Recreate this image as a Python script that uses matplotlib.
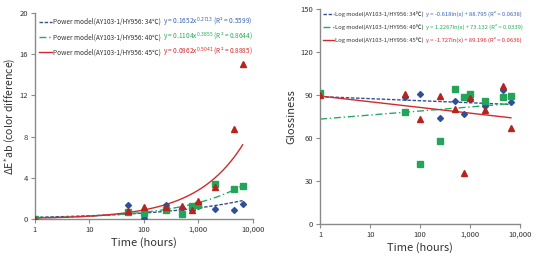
import numpy as np
import matplotlib
matplotlib.use("Agg")
import matplotlib.pyplot as plt

plt.rcParams['font.family'] = ['Noto Sans CJK KR', 'DejaVu Sans']

# time points (hours)
hours = [1, 50, 100, 250, 500, 750, 1000, 2000, 4500, 6500]

# colour difference dE*ab
de_34 = [0.0, 1.37, 0.13, 1.37, 1.1, 0.9, 1.3, 1.0, 0.9, 1.46]
de_40 = [0.0, 0.72, 0.55, 0.88, 0.45, 1.27, 1.37, 3.38, 2.93, 3.22]
de_45 = [0.0, 0.78, 1.2, 1.2, 1.3, 0.88, 1.76, 3.06, 8.7, 15.1]

# glossiness
gl_34 = [90.0, 88.7, 90.6, 74.0, 85.7, 76.6, 87.0, 82.2, 93.4, 85.0]
gl_40 = [91.5, 78.3, 41.6, 57.8, 94.3, 88.7, 90.6, 85.5, 88.3, 89.2]
gl_45 = [90.0, 90.6, 73.0, 89.2, 80.4, 35.8, 88.0, 79.4, 96.4, 67.1]

# fitted models
pow_a = [0.1652, 0.1104, 0.0862]
pow_b = [0.2713, 0.3855, 0.5041]
pow_r2 = ['0.5599', '0.8644', '0.8885']
log_a = [-0.618, 1.2267, -1.727]
log_b = [88.795, 73.132, 89.196]
log_r2 = ['0.0638', '0.0339', '0.0636']

temps = ['34℃', '40℃', '45℃']
mk_colors = ['#2f4f9a', '#22a558', '#b8231c']
ln_colors = ['#34508f', '#2aa866', '#d02a30']
eq_colors = ['#3a63b0', '#22ad55', '#d8262a']
markers = ['D', 's', '^']
msizes = [3.0, 4.8, 4.0]
styles = [(0, (2.5, 1.2)), (0, (5, 2, 1, 2)), '-']

fig = plt.figure(figsize=(5.38, 2.61), dpi=100)
ax1 = fig.add_axes([0.065, 0.161, 0.405, 0.789])
ax2 = fig.add_axes([0.595, 0.142, 0.372, 0.824])

xs = np.logspace(0, np.log10(6500), 200)
gray = '#8a8a8a'


def style_axes(ax):
    ax.set_xscale('log')
    ax.set_xlim(1, 10000)
    ax.set_xticks([1, 10, 100, 1000, 10000])
    ax.set_xticklabels(['1', '10', '100', '1,000', '10,000'])
    ax.minorticks_off()
    for s in ['top', 'right']:
        ax.spines[s].set_visible(False)
    for s in ['left', 'bottom']:
        ax.spines[s].set_color(gray)
        ax.spines[s].set_linewidth(1.0)
    ax.tick_params(colors=gray, labelcolor='#333333', labelsize=5.5,
                   length=3, width=0.8, pad=2)
    ax.set_xlabel('Time (hours)', fontsize=8, color='#333333', labelpad=2)


handles1 = []
for i in range(3):
    ax1.plot(hours, [de_34, de_40, de_45][i], linestyle='none', marker=markers[i],
             ms=msizes[i], color=mk_colors[i], zorder=3)
    h, = ax1.plot(xs, pow_a[i] * xs ** pow_b[i], color=ln_colors[i],
                  linestyle=styles[i], lw=1.0, zorder=2)
    handles1.append(h)
style_axes(ax1)
ax1.set_ylim(0, 20)
ax1.set_yticks([0, 4, 8, 12, 16, 20])
ax1.set_ylabel('ΔE$^{*}$ab (color difference)', fontsize=7.6, color='#333333', labelpad=1)

handles2 = []
for i in range(3):
    ax2.plot(hours, [gl_34, gl_40, gl_45][i], linestyle='none', marker=markers[i],
             ms=msizes[i], color=mk_colors[i], zorder=3)
    h, = ax2.plot(xs, log_a[i] * np.log(xs) + log_b[i], color=ln_colors[i],
                  linestyle=styles[i], lw=1.0, zorder=2)
    handles2.append(h)
style_axes(ax2)
ax2.set_ylim(0, 150)
ax2.set_yticks([0, 30, 60, 90, 120, 150])
ax2.set_ylabel('Glossiness', fontsize=8, color='#333333', labelpad=3)

labels1 = ['Power model(AY103-1/HY956: %s)' % t for t in temps]
labels2 = ['Log model(AY103-1/HY956: %s)' % t for t in temps]
eqs1 = ['y = %.4fx$^{%.4f}$ (R² = %s)' % (pow_a[i], pow_b[i], pow_r2[i]) for i in range(3)]
eqs2 = []
for i in range(3):
    sign = '-' if log_a[i] < 0 else ''
    eqs2.append('y = %s%gln(x) + %.3f (R² = %s)' % (sign, abs(log_a[i]), log_b[i], log_r2[i]))

fs1, fs2 = 4.7, 4.2
leg1 = ax1.legend(handles1, labels1, loc='upper left', bbox_to_anchor=(0.0, 0.995),
                  frameon=False, fontsize=fs1, handlelength=2.0, handletextpad=0.2,
                  labelspacing=1.1, borderaxespad=0.2)
leg2 = ax2.legend(handles2, labels2, loc='upper left', bbox_to_anchor=(-0.005, 1.005),
                  frameon=False, fontsize=fs2, handlelength=2.0, handletextpad=0.2,
                  labelspacing=1.25, borderaxespad=0.2)
for leg in (leg1, leg2):
    for t in leg.get_texts():
        t.set_color('#333333')

fig.canvas.draw()
r = fig.canvas.get_renderer()
inv = fig.transFigure.inverted()
for leg, eqs, fs in ((leg1, eqs1, fs1), (leg2, eqs2, fs2)):
    for i, t in enumerate(leg.get_texts()):
        bb = t.get_window_extent(r)
        x, y = inv.transform((bb.x1 + 1.5, (bb.y0 + bb.y1) / 2))
        fig.text(x, y, eqs[i], fontsize=fs, color=eq_colors[i], va='center', ha='left')

fig.savefig('out.png', dpi=100)
